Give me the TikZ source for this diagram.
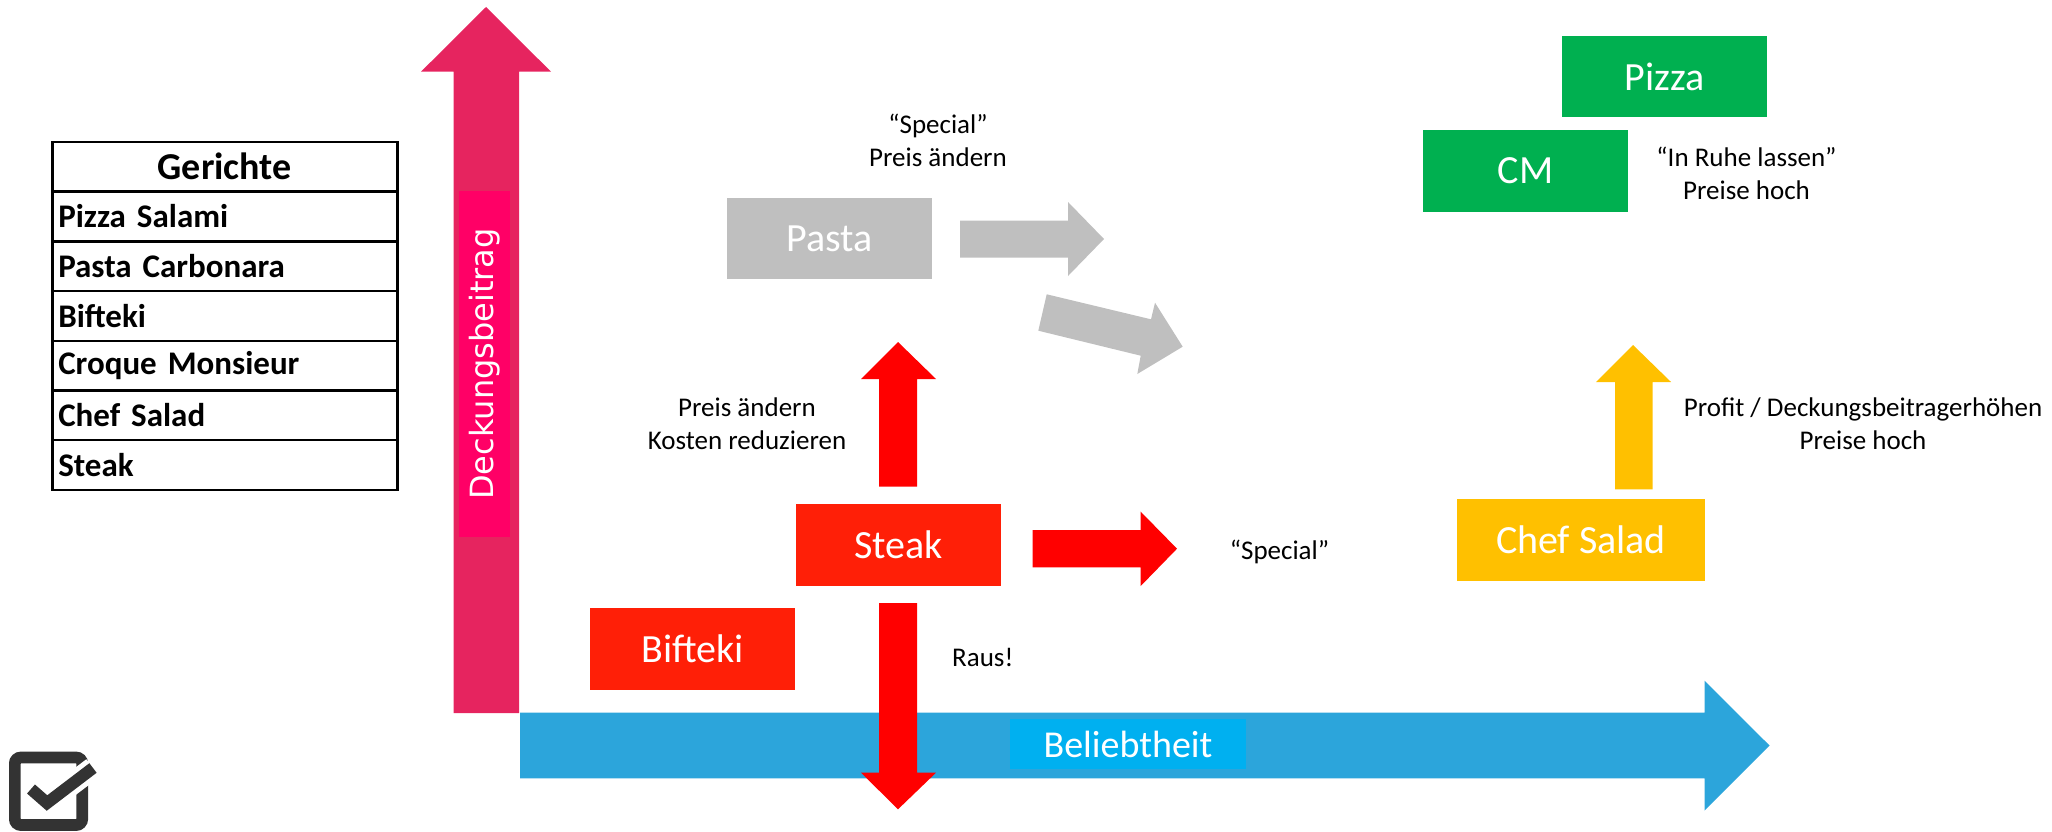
\documentclass[tikz,border=0pt]{standalone}
\usepackage{fontspec}
\setmainfont{Carlito}
\newfontfamily\dejavu{DejaVu Sans}
\definecolor{boxgray}{HTML}{BFBFBF}
\definecolor{boxgreen}{HTML}{00B050}
\definecolor{boxred}{HTML}{FF1F07}
\definecolor{arrred}{HTML}{FF0000}
\definecolor{boxyellow}{HTML}{FFC000}
\definecolor{arrblue}{HTML}{2CA5DB}
\definecolor{lblblue}{HTML}{00B0F0}
\definecolor{arrpink}{HTML}{E6245F}
\definecolor{lblpink}{HTML}{FF0066}
\definecolor{ckgray}{HTML}{333333}
\begin{document}
\begin{tikzpicture}[x=1pt,y=-1pt,
  box/.style={fill=#1, text=white, minimum width=205pt, minimum height=81pt, inner sep=0pt, font=\fontsize{40}{48}\selectfont},
  lbl/.style={align=center, font=\fontsize{27}{33}\selectfont, inner sep=0pt},
  row/.style={draw=black, line width=2.5pt, anchor=north west, text width=333pt, inner xsep=6pt, inner ysep=0pt, minimum height=49.7pt, align=left, font=\fontsize{33}{40}\selectfont\bfseries},
  blockarrow/.style={fill=#1, draw=none}
]
\useasboundingbox (0,0) rectangle (2052,832);

% table
\node[row, align=center, font=\fontsize{38}{44}\selectfont\bfseries] (thead) at (51,140.7) {Gerichte};
\node[row] (r1) at (51,190.4) {Pizza Salami};
\node[row] (r2) at (51,240.1) {Pasta Carbonara};
\node[row] (r3) at (51,289.8) {Bifteki};
\node[row] (r4) at (51,339.5) {Croque Monsieur};
\node[row] (r5) at (51,389.2) {Chef Salad};
\node[row] (r6) at (51,438.9) {Steak};

% vertical axis (pink)
\fill[blockarrow=arrpink] (453.5,713) -- (453.5,71.7) -- (421,71.7) -- (486,7) -- (551,71.7) -- (519,71.7) -- (519,713) -- cycle;
\node[fill=lblpink, minimum width=51pt, minimum height=346pt, inner sep=0pt] (ylbl) at (484.5,364) {};
\node[rotate=90, text=white, font=\dejavu\fontsize{32}{38}\selectfont, inner sep=0pt] (ytext) at (ylbl.center) {Deckungsbeitrag};

% horizontal axis (blue)
\fill[blockarrow=arrblue] (520,712.7) -- (1704.5,712.7) -- (1704.5,680.7) -- (1769.5,745.5) -- (1704.5,810.7) -- (1704.5,778.3) -- (520,778.3) -- cycle;
\node[fill=lblblue, text=white, minimum width=236pt, minimum height=50pt, inner sep=0pt, font=\fontsize{38}{44}\selectfont] (xlbl) at (1128,744) {Beliebtheit};

% boxes
\node[box=boxgray] (pasta) at (829.5,238.5) {Pasta};
\node[box=boxgreen] (pizza) at (1664.5,77) {Pizza};
\node[box=boxgreen] (cm) at (1525.5,171) {CM};
\node[box=boxred, minimum height=82pt] (steak) at (898.5,545) {Steak};
\node[box=boxred, minimum height=82pt] (bifteki) at (692.5,649) {Bifteki};
\node[box=boxyellow, minimum width=248pt, minimum height=82pt] (chef) at (1581,540) {Chef Salad};

% gray arrows
\fill[blockarrow=boxgray] (960,220.7) -- (1068,220.7) -- (1068,202) -- (1104,239) -- (1068,276) -- (1068,257.7) -- (960,257.7) -- cycle;
\fill[blockarrow=boxgray] (1046.7,294.3) -- (1151,319.3) -- (1155,302.7) -- (1182.7,346.7) -- (1137.3,374) -- (1140.7,355.7) -- (1038.3,330.7) -- cycle;

% red arrows
\fill[blockarrow=arrred] (879,486.7) -- (879,379) -- (861,379) -- (898,342) -- (936,379) -- (917,379) -- (917,486.7) -- cycle;
\fill[blockarrow=arrred] (879,603) -- (879,772.7) -- (861,772.7) -- (898,809.3) -- (936,772.7) -- (917,772.7) -- (917,603) -- cycle;
\fill[blockarrow=arrred] (1032.7,530) -- (1140.7,530) -- (1140.7,511.7) -- (1177,548.7) -- (1140.7,586) -- (1140.7,567.3) -- (1032.7,567.3) -- cycle;

% yellow arrow
\fill[blockarrow=boxyellow] (1615,489.3) -- (1615,382) -- (1596,382) -- (1633,345) -- (1671,382) -- (1652.5,382) -- (1652.5,489.3) -- cycle;

% labels
\node[lbl] (t1) at (938,140) {“Special”\\Preis ändern};
\node[lbl] (t2) at (747,424) {Preis ändern\\Kosten reduzieren};
\node[lbl, anchor=west] (t3) at (952,657) {Raus!};
\node[lbl] (t4) at (1279.5,552) {“Special”};
\node[lbl] (t5) at (1746.5,173) {“In Ruhe lassen”\\Preise hoch};
\node[lbl] (t6) at (1863,423.5) {Profit / Deckungsbeitragerhöhen\\Preise hoch};

% checkbox icon
\draw[line width=11.7pt, draw=ckgray, rounded corners=6pt] (14.85,757.5) rectangle (82.2,825);
\draw[line width=22pt, white, line join=miter] (31,789) -- (47,803) -- (93,768);
\draw[line width=12pt, ckgray, line join=miter] (31,789) -- (47,803) -- (93,768);
\end{tikzpicture}
\end{document}
